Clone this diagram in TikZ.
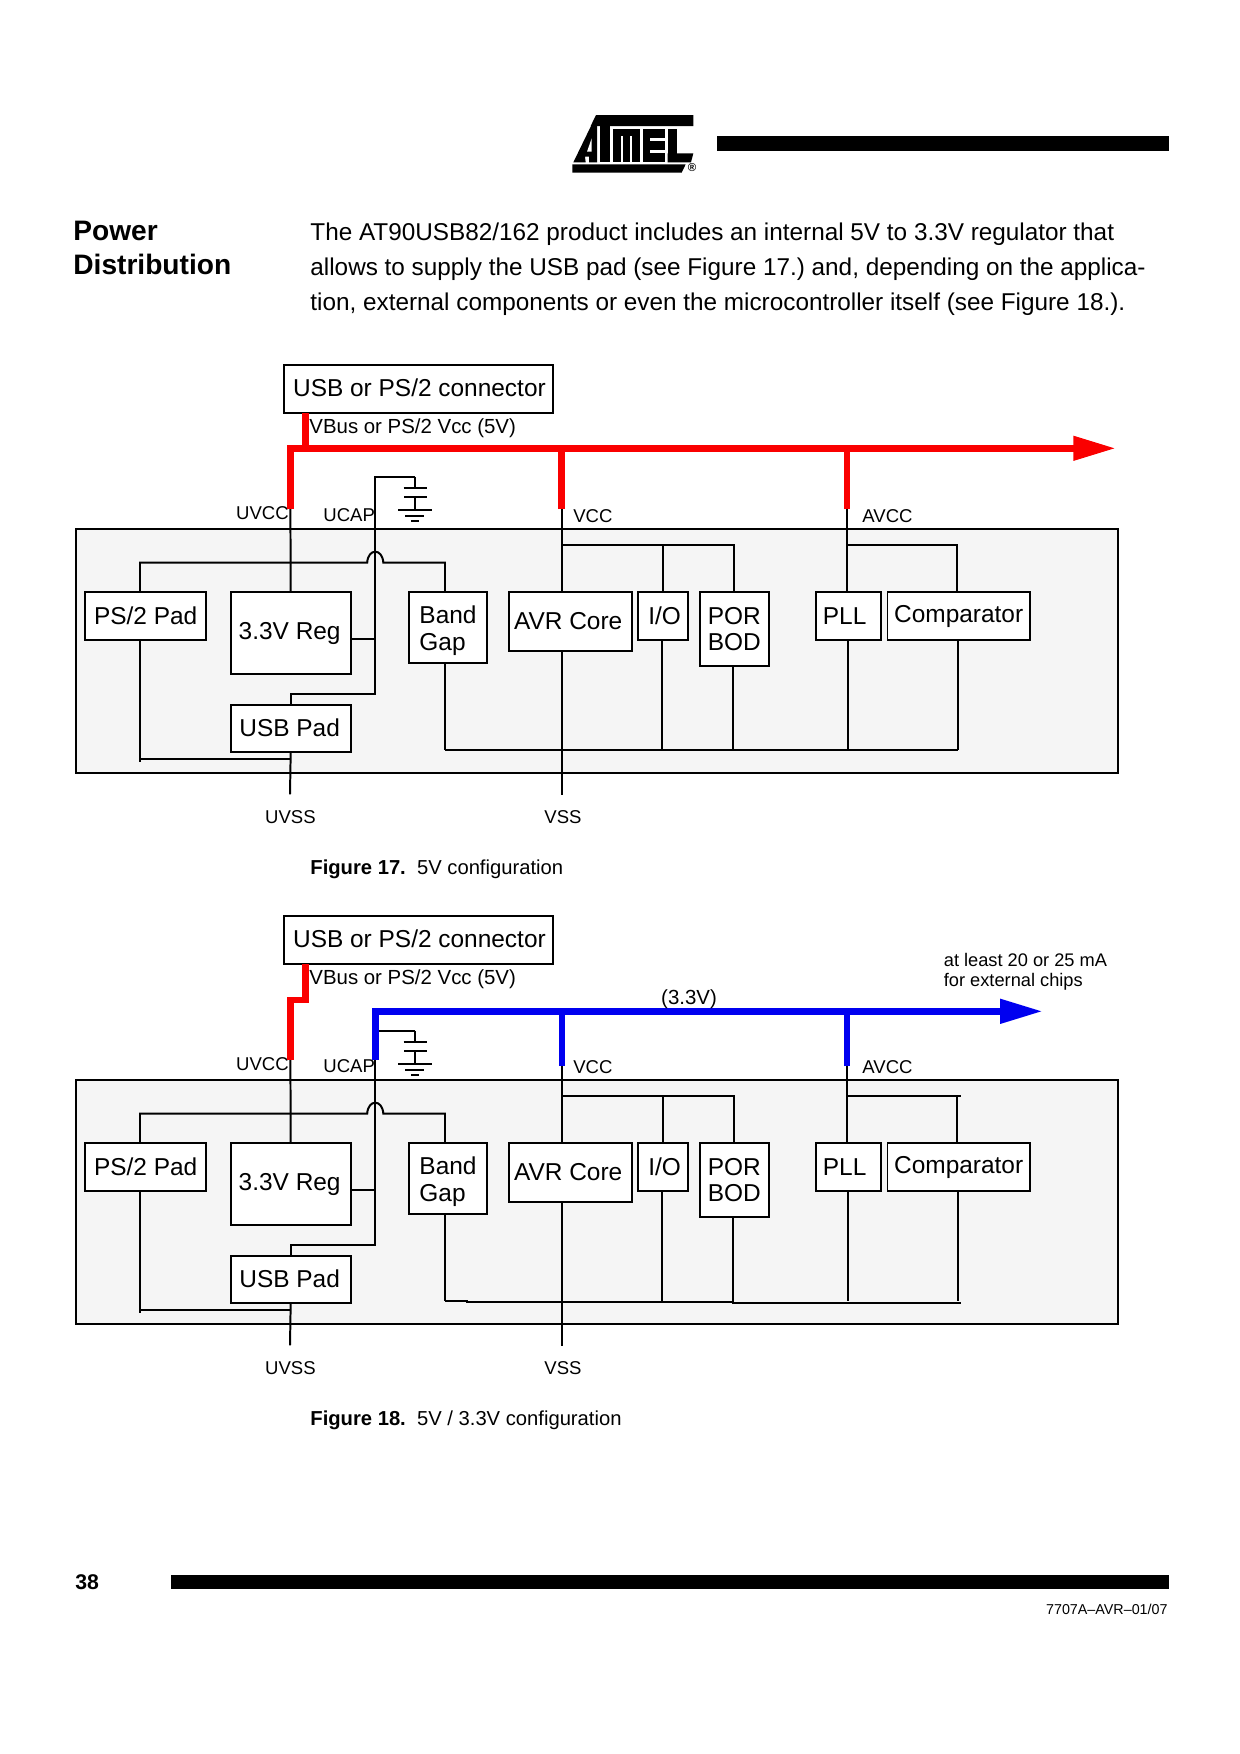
\documentclass[tikz,border=0pt]{standalone}
\usepackage{fontspec}
\setmainfont{Liberation Sans}
\usetikzlibrary{positioning,arrows.meta,calc}
\frenchspacing

\definecolor{railblue}{RGB}{0,0,240}
\definecolor{railred}{RGB}{250,0,0}

\tikzset{
	wh/.style 2 args={minimum width=#1*0.48pt, minimum height=#2*0.48pt},
	block/.style={draw, line width=0.95pt, fill=white, inner sep=0pt, outer sep=0pt, anchor=north west, align=left, font=\fontsize{11.73}{12.9}\selectfont},
	chip/.style={draw, line width=0.95pt, fill=black!4, inner sep=0pt, outer sep=0pt, anchor=north west},
	pin/.style={inner sep=0pt, font=\fontsize{8.9}{11}\selectfont},
	note/.style={inner sep=0pt, anchor=west, align=left, font=\fontsize{9.8}{9.6}\selectfont},
	farnote/.style={note, font=\fontsize{8.75}{9.6}\selectfont},
	caption/.style={inner sep=0pt, anchor=west, font=\fontsize{9.7}{12}\selectfont},
	heading/.style={inner sep=0pt, anchor=west, align=left, font=\fontsize{13.5}{16.7}\selectfont\bfseries},
	wire/.style={line width=0.95pt},
	rail/.style={line width=3.1pt},
	railend/.style={rail, -{Triangle[length=20.3pt,width=11.2pt]}},
}

% parts both figures share, #1 moves the capacitor down a little
\newcommand{\chipfigure}[1]{%
	\node[chip, wh={1041.8}{244}] (chip) at (76.4,529.3) {};

	\begin{scope}[shift={(0.7,0.7)}]
		\node[block, wh={269}{48}] (connector) at (283.2,364.3) {\hspace{1pt}\raisebox{1pt}{USB or PS/2 connector}};
		\node[block, wh={120.8}{47.3}] (pstwo) at (84.6,591.7) {\raisebox{0.5pt}{PS/2 Pad}};
		\node[block, wh={120}{82}] (reg) at (230,591.7) {\raisebox{1pt}{3.3V Reg}\hspace{1pt}};
		\node[block, wh={120}{47}] (usbpad) at (230,704) {\raisebox{0.5pt}{USB Pad}\hspace{1pt}};
		\node[block, wh={78.2}{70.3}] (bandgap) at (408.2,591.7) {\rule{0pt}{11.1pt}Band\\Gap\hspace{3pt}};
		\node[block, wh={123.3}{58.3}] (core) at (507.9,591.7) {AVR Core\hspace{2pt}};
		\node[block, wh={49.3}{47.3}] (io) at (637.7,591.7) {\hspace{1.5pt}\raisebox{0.5pt}{I/O}};
		\node[block, wh={69.3}{73.3}] (porbod) at (698.9,591.7) {POR\\BOD};
		\node[block, wh={65.1}{47.3}] (pll) at (814.9,591.7) {PLL\hspace{3.4pt}};
		\node[block, wh={142.4}{47.3}] (comparator) at (886.8,591.7) {\raisebox{-1pt}{Comparator}};
	\end{scope}

	\coordinate (uvccend) at (290.4,509);
	\coordinate (ucapend) at (375.4,509);
	\coordinate (vccend) at (561.6,509);
	\coordinate (avccend) at (847,509);
	\coordinate (uvssend) at (290,794.3);
	\coordinate (vssend) at (561.8,795.3);
	\coordinate (ucaptop) at (375,476.7+#1);
	\coordinate (captop) at (415.4,476.7+#1);
	\coordinate (vccbus) at (561.4,545);
	\coordinate (avccbus) at (847,545);
	\coordinate (padbus) at (140,562.7);
	\coordinate (jumpa) at (367.2,562.7);
	\coordinate (jumpb) at (383.3,562.7);
	\coordinate (gapbus) at (445,562.7);
	\coordinate (gapgnd) at (445,750);
	\coordinate (padgnd) at (140,761.7);
	\coordinate (ucapbend) at (375,693.7);
	\coordinate (cmptop) at (957,545);
	\coordinate (cmpgnd) at (958,750);

	% supply side
	\draw[wire] (uvccend) -- (reg.north);
	\draw[wire] (vccend) -- (core.north -| vccend);
	\draw[wire] (avccend) -- (pll.north -| avccend);
	\draw[wire] (vccbus) -| (io.north);
	\draw[wire] (vccbus) -| (porbod.north);
	\draw[wire] (avccbus) -| (comparator.north -| cmptop);
	\draw[wire] (pstwo.north -| padbus) |- (jumpa) .. controls ($(jumpa)+(0.8,-14.7)$) and ($(jumpb)+(-0.8,-14.7)$) .. (jumpb) -- (gapbus) -- (bandgap.north -| gapbus);

	% ucap and its capacitor
	\draw[wire] (captop) -- (ucaptop) -- (ucapbend) -| (usbpad.north);
	\draw[wire] (reg.east |- 0,638.7) -- (ucapbend |- 0,638.7);
	\draw[wire] (captop) -- ++(0,11.6) ++(-11.7,0) -- ++(23.4,0);
	\draw[wire] ($(captop)+(-11.3,20)$) -- ++(22.6,0);
	\draw[wire] ($(captop)+(0,20)$) -- ++(0,13.3);
	\draw[wire] ($(captop)+(-17.4,33.3)$) -- ++(34,0);
	\draw[wire] ($(captop)+(-10.4,39)$) -- ++(19,0);
	\draw[wire] ($(captop)+(-4.4,44.3)$) -- ++(8,0);

	% ground side
	\draw[wire] (pstwo.south -| padgnd) -- (padgnd);
	\draw[wire] (padgnd |- 0,758.7) -- (usbpad.south |- 0,758.7);
	\draw[wire] (usbpad.south) -- (uvssend);
	\draw[wire] (core.south -| vssend) -- (vssend);
	\draw[wire] (bandgap.south -| gapgnd) -- (gapgnd);
	\draw[wire] (io.south -| 662,0) -- (662,750);
	\draw[wire] (porbod.south -| 733,0) -- (733,750);
	\draw[wire] (pll.south -| 847.8,0) -- (847.8,750);
	\draw[wire] (comparator.south -| cmpgnd) -- (cmpgnd);

	\node[pin] (uvcc) at (262.4,512.7) {UVCC};
	\node[pin] (ucap) at (349.2,515.4) {UCAP};
	\node[pin] (vcc) at (592.9,516.4) {VCC};
	\node[pin] (avcc) at (887.5,516.6) {AVCC};
	\node[pin] (uvss) at (290.4,817) {UVSS};
	\node[pin] (vss) at (563,817) {VSS};
	\node[note] (vbus) at (309,428.2) {VBus or PS/2 Vcc (5V)};
}

\begin{document}
\begin{tikzpicture}[x=0.48pt,y=-0.48pt]
	\useasboundingbox (0,0) rectangle (1240,1754);

	% page head and foot
	\fill (717.3,136) rectangle (1169.4,151);
	\fill (171.2,1575) rectangle (1169.4,1589);
	\node[heading] (title) at (73,248) {Power\\Distribution};
	\node[inner sep=0pt, anchor=west, align=left, font=\fontsize{11.67}{16.8}\selectfont] (body) at (310,269.2) {The AT90USB82/162 product includes an internal 5V to 3.3V regulator that\\allows to supply the USB pad (see Figure 17.) and, depending on the applica-\\tion, external components or even the microcontroller itself (see Figure 18.).};
	\node[inner sep=0pt, anchor=west, font=\fontsize{10.2}{12}\selectfont\bfseries] (page) at (75,1582) {38};
	\node[inner sep=0pt, anchor=east, font=\fontsize{6.87}{9}\selectfont] (docnum) at (1168,1609) {7707A–AVR–01/07};

	% logo
	\begin{scope}[shift={(565,105)},scale=1/3]
		\fill (93,30) -- (385,30) -- (385,63) -- (77,63) -- cycle;
		\fill (25,172) -- (78,63) -- (96,63) -- (96,172) -- (72,172) -- (72,155) -- (60,155) -- (62,172) -- cycle;
		\fill[white] (66,140) -- (80,100) -- (80,140) -- cycle;
		\fill (104,63) rectangle (135,172);
		\fill (143,72) rectangle (225,172);
		\fill[white] (168,92) rectangle (175,172);
		\fill[white] (195,92) rectangle (202,172);
		\fill (233,72) rectangle (300,172);
		\fill[white] (256,100) rectangle (300,108);
		\fill[white] (256,136) rectangle (300,144);
		\fill (308,72) rectangle (335,172);
		\fill (308,145) -- (385,145) -- (378,172) -- (308,172) -- cycle;
		\fill (22,178) -- (362,178) -- (350,203) -- (22,203) -- cycle;
	\end{scope}
	\node[inner sep=0pt, font=\fontsize{5.5}{6}\selectfont\bfseries] (reg mark) at (692,168) {®};

	% figure 17
	\begin{scope}
		\chipfigure{0}
		\coordinate (railtip) at (1115.6,448.3);
		\coordinate (railtap) at (305.4,448.3);
		\draw[rail,railred] (connector.south -| railtap) -- (railtap);
		\draw[railend,railred] (uvccend) |- (railtip);
		\draw[rail,railred] (vccend) -- (vccend |- railtip);
		\draw[rail,railred] (avccend) -- (avccend |- railtip);
		\draw[wire] (gapgnd) -- (cmpgnd);
		\node[caption] (capa) at (310,869.2) {\textbf{Figure 17.}\ \ 5V configuration};
	\end{scope}

	% figure 18
	\begin{scope}[shift={(0,551)}]
		\chipfigure{3}
		\coordinate (railtip) at (1042.5,460.3);
		\coordinate (railtap) at (305.4,449);
		\coordinate (vccblue) at (561.8,514.7);
		\coordinate (avccblue) at (847,515);
		\draw[rail,railred] (connector.south -| railtap) |- (uvccend |- railtap) -- (uvccend);
		\draw[railend,railblue] (ucapend) |- (railtip);
		\draw[rail,railblue] (vccblue) -- (vccblue |- railtip);
		\draw[rail,railblue] (avccblue) -- (avccblue |- railtip);
		\draw[wire] (gapgnd) -- (467,750) -- (467,751) -- (733,751);
		\draw[wire] (733,750) -- (733,751.7) -- (961,751.7);
		\draw[wire] (cmptop) -- (961,545);
		\node[farnote] (extra) at (943.5,420.5) {at least 20 or 25 mA\\for external chips};
		\node[note, anchor=center] (volts) at (689,448.5) {(3.3V)};
		\node[caption] (capb) at (310,869.2) {\textbf{Figure 18.}\ \ 5V / 3.3V configuration};
	\end{scope}
\end{tikzpicture}
\end{document}
